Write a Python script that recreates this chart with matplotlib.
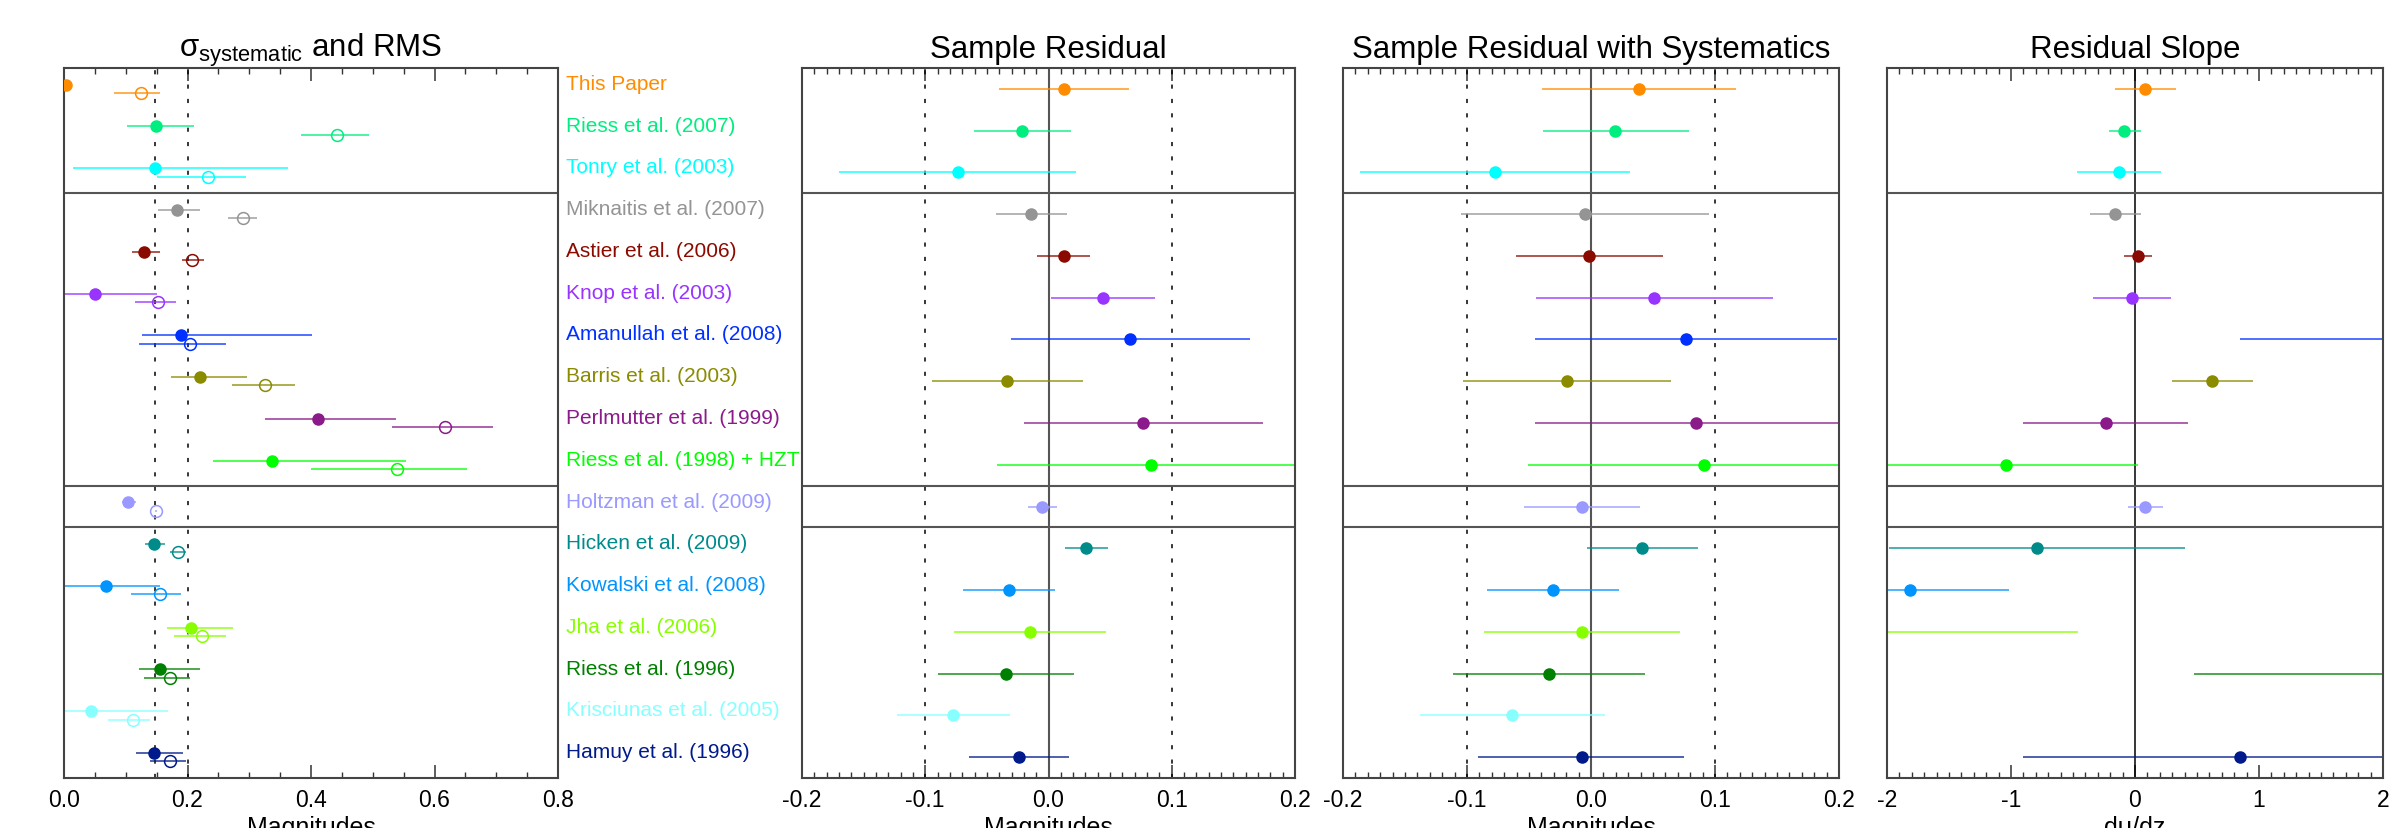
import numpy as np
import matplotlib
matplotlib.use("Agg")
import matplotlib.pyplot as plt
from matplotlib.colors import to_rgba
from matplotlib.ticker import MultipleLocator, FormatStrFormatter
from matplotlib.transforms import blended_transform_factory

plt.rcParams['font.family'] = ['Liberation Sans', 'DejaVu Sans']
plt.rcParams['mathtext.fontset'] = 'custom'
plt.rcParams['mathtext.rm'] = 'Liberation Sans'
plt.rcParams['mathtext.it'] = 'Liberation Sans'

names = ["This Paper", "Riess et al. (2007)", "Tonry et al. (2003)",
         "Miknaitis et al. (2007)", "Astier et al. (2006)", "Knop et al. (2003)",
         "Amanullah et al. (2008)", "Barris et al. (2003)", "Perlmutter et al. (1999)",
         "Riess et al. (1998) + HZT", "Holtzman et al. (2009)", "Hicken et al. (2009)",
         "Kowalski et al. (2008)", "Jha et al. (2006)", "Riess et al. (1996)",
         "Krisciunas et al. (2005)", "Hamuy et al. (1996)"]
colors = ["#ff8c00", "#00ee7f", "#00ffff", "#949494", "#8b0a00", "#9933ff",
          "#0030ff", "#8b8b00", "#8b1a8b", "#00ff00", "#9999ff", "#008b8b",
          "#0094ff", "#88ff00", "#008000", "#88ffff", "#001a8b"]

# sigma systematic (filled) and RMS (open)
sys_val = [0.004, 0.149, 0.148, 0.183, 0.130, 0.050, 0.189, 0.221, 0.411, 0.337, 0.104, 0.146, 0.068, 0.206, 0.156, 0.044, 0.146]
sys_lo = [0.004, 0.102, 0.014, 0.153, 0.110, -0.050, 0.126, 0.174, 0.326, 0.241, 0.094, 0.131, -0.019, 0.167, 0.122, -0.081, 0.117]
sys_hi = [0.004, 0.211, 0.363, 0.221, 0.156, 0.150, 0.402, 0.296, 0.538, 0.554, 0.116, 0.163, 0.155, 0.273, 0.221, 0.169, 0.192]
rms_val = [0.124, 0.442, 0.234, 0.290, 0.208, 0.152, 0.204, 0.326, 0.617, 0.540, 0.149, 0.185, 0.155, 0.224, 0.172, 0.111, 0.171]
rms_lo = [0.081, 0.384, 0.150, 0.266, 0.191, 0.115, 0.122, 0.272, 0.531, 0.400, 0.147, 0.172, 0.109, 0.178, 0.129, 0.071, 0.139]
rms_hi = [0.156, 0.494, 0.295, 0.312, 0.226, 0.181, 0.262, 0.374, 0.694, 0.652, 0.151, 0.197, 0.190, 0.262, 0.204, 0.139, 0.197]

# sample residual
res_val = [0.0127, -0.0214, -0.0735, -0.014, 0.0122, 0.044, 0.066, -0.0338, 0.0768, 0.0835, -0.005, 0.0305, -0.0319, -0.0154, -0.0346, -0.0773, -0.0243]
res_lo = [-0.040, -0.0605, -0.170, -0.043, -0.0092, 0.0019, -0.0305, -0.0946, -0.020, -0.042, -0.0168, 0.0132, -0.069, -0.077, -0.090, -0.1227, -0.0646]
res_hi = [0.065, 0.018, 0.0227, 0.0149, 0.0338, 0.0868, 0.1635, 0.0276, 0.174, 0.209, 0.0065, 0.048, 0.0054, 0.0465, 0.0208, -0.0311, 0.0165]

# sample residual with systematics
sres_val = [0.0388, 0.0197, -0.0776, -0.0052, -0.0017, 0.0509, 0.0764, -0.0197, 0.0845, 0.0909, -0.0069, 0.0414, -0.0307, -0.0069, -0.0339, -0.0634, -0.0075]
sres_lo = [-0.0394, -0.0388, -0.186, -0.1048, -0.0608, -0.0443, -0.0454, -0.103, -0.0452, -0.0512, -0.0541, -0.0032, -0.0839, -0.0863, -0.1114, -0.138, -0.0909]
sres_hi = [0.117, 0.079, 0.0313, 0.0949, 0.0582, 0.1465, 0.198, 0.0643, 0.214, 0.233, 0.0397, 0.086, 0.0223, 0.0715, 0.0437, 0.0113, 0.0753]

# residual slope dmu/dz (some off scale)
slope_val = [0.083, -0.086, -0.132, -0.163, 0.023, -0.023, 2.8, 0.624, -0.237, -1.039, 0.083, -0.790, -1.817, -2.6, 2.6, np.nan, 0.850]
slope_lo = [-0.163, -0.212, -0.469, -0.366, -0.092, -0.338, 0.85, 0.300, -0.901, -2.1, -0.054, -1.98, -2.6, -4.7, 0.475, np.nan, -0.901]
slope_hi = [0.332, 0.046, 0.209, 0.046, 0.137, 0.292, 4.75, 0.950, 0.429, 0.026, 0.223, 0.40, -1.019, -0.458, 4.7, np.nan, 2.6]

separators = [2.5, 9.5, 10.5]
rows = np.arange(len(names))

W, H = 2393, 829
fig = plt.figure(figsize=(W / 100, H / 100), dpi=100)


def make_axes(l, r, t=69, b=779):
    return fig.add_axes([l / W, 1 - b / H, (r - l) / W, (b - t) / H])


def style_axes(ax, xlim, major, minor, title, xlabel, fmt):
    ax.set_xlim(*xlim)
    ax.set_ylim(16.5, -0.5)
    ax.set_yticks([])
    ax.xaxis.set_major_locator(MultipleLocator(major))
    ax.xaxis.set_minor_locator(MultipleLocator(minor))
    ax.xaxis.set_major_formatter(FormatStrFormatter(fmt))
    ax.tick_params(axis='x', which='both', direction='in', top=True, bottom=True,
                   labelsize=16.5, pad=7.5, color='#333333')
    ax.tick_params(axis='x', which='major', length=9.5, width=1.1)
    ax.tick_params(axis='x', which='minor', length=4.5, width=1.0)
    for s in ax.spines.values():
        s.set_linewidth(1.5)
        s.set_color('#444444')
    for y in separators:
        ax.axhline(y, color='#555555', lw=1.5)
    ax.set_title(title, fontsize=22.5, pad=8)
    pos = ax.get_position()
    # axis label sits at the bottom edge, partly cut off as in the original
    fig.text((pos.x0 + pos.x1) / 2, 0.0157, xlabel, ha='center', va='top', fontsize=18)


def draw(ax, y, val, lo, hi, filled=True):
    for yi, v, l, h, c in zip(y, val, lo, hi, colors):
        if np.isnan(v):
            continue
        ax.plot([l, h], [yi, yi], color=to_rgba(c, 0.75), lw=1.3, solid_capstyle='butt')
        if filled:
            ax.plot(v, yi, 'o', color=c, ms=8, mec=c, zorder=3)
        else:
            ax.plot(v, yi, 'o', mfc='none', mec=c, ms=8.5, mew=1.1, zorder=3)


dots = (0, (2.7, 6.7))

# panel 1
ax1 = make_axes(64, 558)
ax1.axvline(0.147, color='k', lw=1.1, ls=dots)
ax1.axvline(0.201, color='k', lw=1.1, ls=dots)
draw(ax1, rows - 0.1, sys_val, sys_lo, sys_hi, True)
draw(ax1, rows + 0.1, rms_val, rms_lo, rms_hi, False)
style_axes(ax1, (0, 0.8), 0.2, 0.05, 'σ$_{\\mathrm{systematic}}$ and RMS', 'Magnitudes', '%.1f')

trans = blended_transform_factory(ax1.transAxes, ax1.transData)
for i, (n, c) in enumerate(zip(names, colors)):
    ax1.text(1.016, i, n, color=c, fontsize=15, va='baseline', ha='left',
             transform=trans, clip_on=False)

# panel 2
ax2 = make_axes(802, 1295)
for xv in (-0.1, 0.1):
    ax2.axvline(xv, color='k', lw=1.1, ls=dots)
ax2.axvline(0, color='#555555', lw=1.5)
draw(ax2, rows, res_val, res_lo, res_hi)
style_axes(ax2, (-0.2, 0.2), 0.1, 0.01, 'Sample Residual', 'Magnitudes', '%.1f')

# panel 3
ax3 = make_axes(1343, 1839)
for xv in (-0.1, 0.1):
    ax3.axvline(xv, color='k', lw=1.1, ls=dots)
ax3.axvline(0, color='#555555', lw=1.5)
draw(ax3, rows, sres_val, sres_lo, sres_hi)
style_axes(ax3, (-0.2, 0.2), 0.1, 0.01, 'Sample Residual with Systematics', 'Magnitudes', '%.1f')

# panel 4
ax4 = make_axes(1887, 2383)
ax4.axvline(0, color='k', lw=1.1)
draw(ax4, rows, slope_val, slope_lo, slope_hi)
style_axes(ax4, (-2, 2), 1, 0.1, 'Residual Slope', 'dμ/dz', '%d')

fig.savefig("out.png", dpi=100)
